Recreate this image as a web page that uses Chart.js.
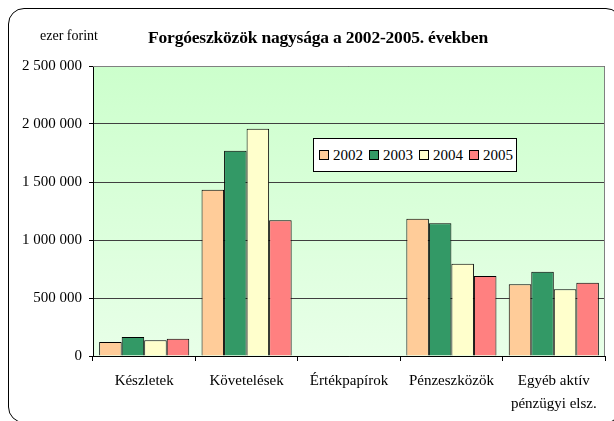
<!DOCTYPE html>
<html>
<head>
<meta charset="utf-8">
<script src="https://cdn.jsdelivr.net/npm/chart.js@4.4.1/dist/chart.umd.min.js"></script>
<style>
  html, body { margin: 0; padding: 0; background: #fff; overflow: hidden; width: 614px; height: 421px; }
  #wrap { position: relative; width: 614px; height: 421px; overflow: hidden; font-family: "Liberation Serif", "Times New Roman", serif; }
  #frame { position: absolute; left: 8px; top: 8px; width: 614px; height: 415px; border: 1.5px solid #000; border-radius: 16px; box-sizing: border-box; }
  #unit { position: absolute; left: 40px; top: 28px; font-size: 14px; color: #000; }
  #title { position: absolute; left: 0; width: 636px; top: 27px; text-align: center; font-size: 17.5px; font-weight: bold; color: #000; letter-spacing: -0.2px; }
  #legend { position: absolute; left: 313px; top: 138px; width: 204px; height: 34px; box-sizing: border-box; border: 1px solid #000; background: #fff; display: flex; align-items: center; padding-left: 5px; font-size: 15px; font-family: "Liberation Serif", "Times New Roman", serif; }
  #legend span.item { display: flex; align-items: center; margin-right: 6px; }
  #legend i { display: inline-block; width: 8px; height: 8px; border: 1px solid #000; margin-right: 4px; }
  canvas { position: absolute; left: 0; top: 0; }
</style>
</head>
<body>
<div id="wrap">
  <canvas id="c" width="614" height="421"></canvas>
  <div id="frame"></div>
  <div id="unit">ezer forint</div>
  <div id="title">Forgóeszközök nagysága a 2002-2005. években</div>
  <div id="legend"></div>
</div>
<script>
// kategóriák és évenkénti értékek (ezer forint)
const categories = ['Készletek', 'Követelések', 'Értékpapírok', 'Pénzeszközök', ['Egyéb aktív', 'pénzügyi elsz.']];
const years = ['2002', '2003', '2004', '2005'];
const v2002 = [121000, 1434000, 0, 1184000, 618000];
const v2003 = [164000, 1770000, 0, 1144000, 727000];
const v2004 = [136000, 1960000, 0, 796000, 575000];
const v2005 = [149000, 1170000, 0, 690000, 632000];
const colors = ['#FFCC99', '#339966', '#FFFFCC', '#FF8080'];
const yTicks = [0, 500000, 1000000, 1500000, 2000000, 2500000];

function fmt(v) {
  return String(v).replace(/\B(?=(\d{3})+(?!\d))/g, ' ');
}

// zöld háttér színátmenettel + szürke keret
const plotBg = {
  id: 'plotBg',
  beforeDraw(chart) {
    const { ctx, chartArea: a } = chart;
    const g = ctx.createLinearGradient(0, a.top, 0, a.bottom);
    g.addColorStop(0, '#CCFFCC');
    g.addColorStop(1, '#E8FFE8');
    ctx.save();
    ctx.fillStyle = g;
    ctx.fillRect(a.left, a.top, a.right - a.left, a.bottom - a.top);
    ctx.restore();
  },
  afterDraw(chart) {
    const { ctx, chartArea: a } = chart;
    ctx.save();
    ctx.strokeStyle = '#808080';
    ctx.lineWidth = 1;
    ctx.beginPath();
    ctx.moveTo(a.left, a.top + 0.5);
    ctx.lineTo(a.right - 0.5, a.top + 0.5);
    ctx.lineTo(a.right - 0.5, a.bottom);
    ctx.stroke();
    ctx.restore();
  }
};

const series = [v2002, v2003, v2004, v2005];

const chart = new Chart(document.getElementById('c'), {
  type: 'bar',
  data: {
    labels: categories,
    datasets: series.map((d, i) => ({
      label: years[i],
      data: d,
      backgroundColor: colors[i],
      borderColor: '#000',
      borderWidth: 1,
      borderSkipped: 'bottom',
      categoryPercentage: 0.88,
      barPercentage: 1.0,
    })),
  },
  options: {
    responsive: false,
    devicePixelRatio: 1,
    animation: false,
    layout: { padding: { top: 66, right: 9, left: 0, bottom: 0 } },
    plugins: {
      legend: { display: false },
      title: { display: false },
      tooltip: { enabled: false },
    },
    scales: {
      x: {
        afterFit: s => { s.height = 65; },
        border: { color: '#000', width: 1 },
        grid: { offset: true, drawOnChartArea: false, color: '#000', tickLength: 5 },
        ticks: {
          color: '#000',
          font: { family: '"Liberation Serif", serif', size: 15, lineHeight: 1.55 },
          padding: 8,
          maxRotation: 0,
          autoSkip: false,
        },
      },
      y: {
        min: 0,
        max: 2500000,
        afterFit: s => { s.width = 93; },
        afterBuildTicks: s => { s.ticks = yTicks.map(v => ({ value: v })); },
        border: { color: '#000', width: 1 },
        grid: { color: '#404040', tickLength: 4, tickColor: '#000' },
        ticks: {
          color: '#000',
          font: { family: '"Liberation Serif", serif', size: 15 },
          padding: 7,
          callback: v => fmt(v),
        },
      },
    },
  },
  plugins: [plotBg],
});

// jelmagyarázat a diagram adataiból
const legendEl = document.getElementById('legend');
chart.data.datasets.forEach(ds => {
  const item = document.createElement('span');
  item.className = 'item';
  const sw = document.createElement('i');
  sw.style.background = ds.backgroundColor;
  item.appendChild(sw);
  item.appendChild(document.createTextNode(ds.label));
  legendEl.appendChild(item);
});
</script>
</body>
</html>
